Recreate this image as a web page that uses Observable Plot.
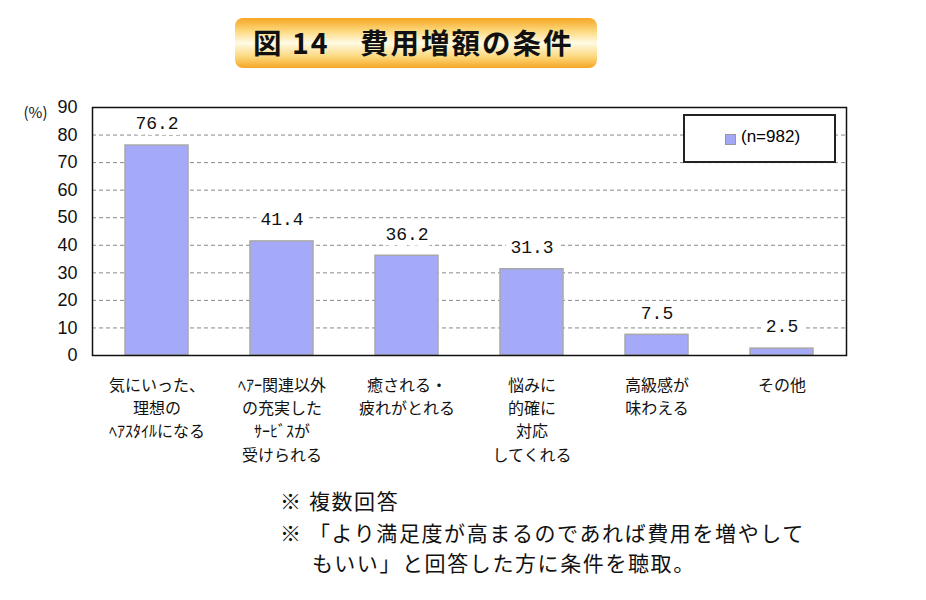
<!DOCTYPE html>
<html>
<head>
<meta charset="utf-8">
<script src="https://cdn.jsdelivr.net/npm/d3@7"></script>
<script src="https://cdn.jsdelivr.net/npm/@observablehq/plot@0.6"></script>
<style>
  body { margin: 0; background: #fff; }
  #page { position: relative; width: 926px; height: 600px; background: #fff; font-family: "Noto Sans CJK JP", sans-serif; }
  #title {
    position: absolute; left: 235px; top: 18px; width: 362px; height: 50px;
    border-radius: 8px;
    background: linear-gradient(to bottom, #f6a623 0%, #fcd77a 25%, #fffbe6 50%, #fcd77a 78%, #f6a623 100%);
    box-sizing: border-box;
  }
  #title span {
    position: absolute; left: 18px; top: 4px; font-size: 28.5px; font-weight: bold; color: #111; white-space: pre;
    line-height: 40px; letter-spacing: 2px;
  }
  #chart { position: absolute; left: 0; top: 88px; }
  #legend {
    position: absolute; left: 683px; top: 114px; width: 153px; height: 49px; box-sizing: border-box;
    border: 2px solid #222; background: #fff; font-family: "Liberation Sans", sans-serif; font-size: 17px;
  }
  #legend .sw { position: absolute; left: 40px; top: 18px; width: 9px; height: 9px; background: #a2a8f6; border: 1px solid #999; }
  #legend .lb { position: absolute; left: 56px; top: 11px; }
  .note { position: absolute; font-size: 21px; color: #111; white-space: pre; line-height: 30px; letter-spacing: 1.6px; }
</style>
</head>
<body>
<div id="page">
  <div id="title"><span>図 14　費用増額の条件</span></div>
  <div id="chart"></div>
  <div id="legend"><div class="sw"></div><div class="lb">(n=982)</div></div>
  <div class="note" style="left:280px; top:485px;">※ 複数回答</div>
  <div class="note" style="left:280px; top:517px;">※ 「より満足度が高まるのであれば費用を増やして</div>
  <div class="note" style="left:312px; top:547px;">もいい」と回答した方に条件を聴取。</div>
</div>
<script>
const categories = [
  "気にいった、\n理想の\nﾍｱｽﾀｲﾙになる",
  "ﾍｱｰ関連以外\nの充実した\nｻｰﾋﾞｽが\n受けられる",
  "癒される・\n疲れがとれる",
  "悩みに\n的確に\n対応\nしてくれる",
  "高級感が\n味わえる",
  "その他"
];
const values = [76.2, 41.4, 36.2, 31.3, 7.5, 2.5];
const yTicks = [0, 10, 20, 30, 40, 50, 60, 70, 80, 90];
const gridTicks = [10, 20, 30, 40, 50, 60, 70, 80];
const legendLabel = "(n=982)";
const yUnit = "(%)";

const data = categories.map((c, i) => ({category: c, value: values[i]}));

const chart = Plot.plot({
  width: 926,
  height: 400,
  marginLeft: 92,
  marginRight: 80,
  marginTop: 19,
  marginBottom: 133,
  style: {fontFamily: "Liberation Sans, sans-serif", fontSize: "16px", color: "#111", background: "transparent"},
  x: {domain: categories, paddingInner: 0.5, paddingOuter: 0.25, axis: null},
  y: {domain: [0, 90], axis: null},
  marks: [
    Plot.gridY(gridTicks, {stroke: "#888", strokeOpacity: 1, strokeDasharray: "4,3"}),
    Plot.axisY(yTicks, {tickSize: 0, tickPadding: 15, fontSize: 18, label: null}),
    Plot.text([yUnit], {frameAnchor: "top-left", dx: -69, dy: 0, textAnchor: "start", fontSize: 15, fontFamily: "Noto Sans CJK JP"}),
    Plot.barY(data, {x: "category", y: "value", fill: "#a4aaf7", stroke: "#a8a8a8", strokeWidth: 1.5}),
    Plot.text(data, {x: "category", y: "value", text: d => d.value.toFixed(1), dy: -22,
      fontFamily: "Liberation Mono, monospace", fontSize: 18, fill: "#111", stroke: "white", strokeWidth: 12, paintOrder: "stroke"}),
    Plot.text(data, {x: "category", text: "category", frameAnchor: "bottom", dy: 19, lineAnchor: "top",
      lineHeight: 1.45, fontSize: 16, fontFamily: "Noto Sans CJK JP", fill: "#111"}),
    Plot.frame({stroke: "#111", strokeWidth: 1.5})
  ]
});
document.getElementById("chart").appendChild(chart);
</script>
</body>
</html>
